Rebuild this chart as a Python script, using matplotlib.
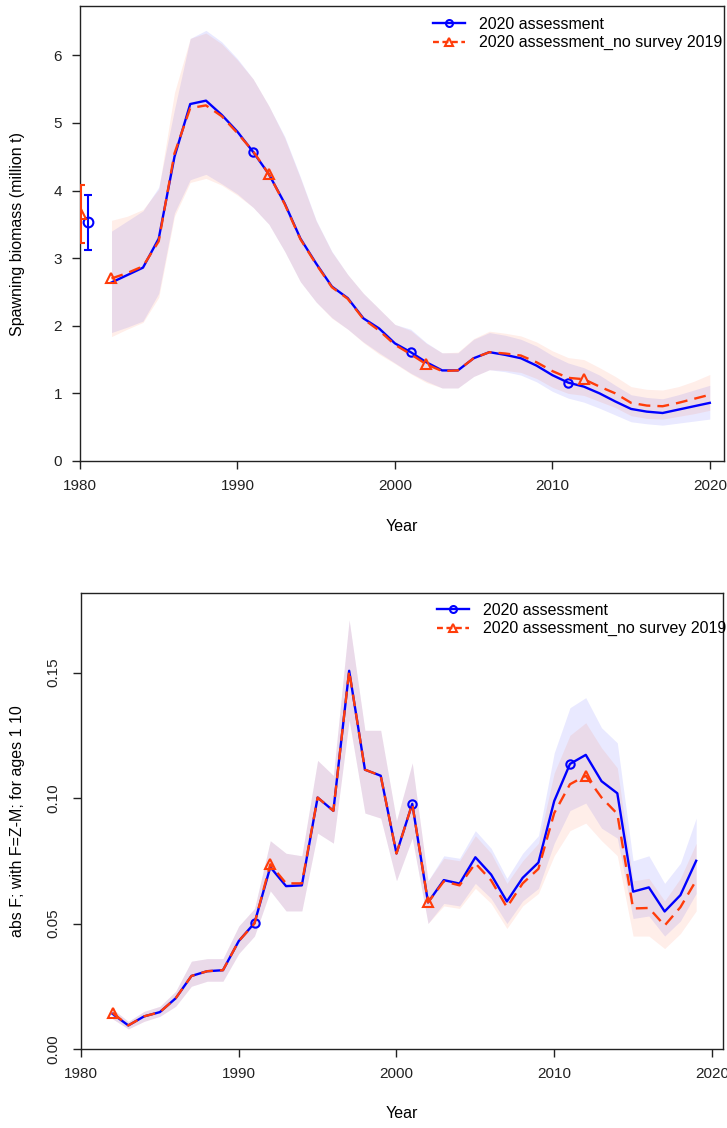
import numpy as np
import matplotlib
matplotlib.use("Agg")
import matplotlib.pyplot as plt

plt.rcParams['font.family'] = ['Liberation Sans', 'DejaVu Sans']

years_ssb = list(range(1982, 2021))
ssb_blue = [2.64, 2.75, 2.86, 3.29, 4.50, 5.28, 5.33, 5.12, 4.87, 4.57,
            4.24, 3.81, 3.29, 2.92, 2.58, 2.41, 2.11, 1.96, 1.74, 1.61,
            1.46, 1.34, 1.34, 1.52, 1.61, 1.57, 1.52, 1.41, 1.27, 1.16,
            1.10, 1.00, 0.88, 0.77, 0.73, 0.71, 0.76, 0.81, 0.86]
ssb_red = [2.70, 2.78, 2.88, 3.25, 4.55, 5.22, 5.26, 5.10, 4.85, 4.58,
           4.24, 3.80, 3.28, 2.91, 2.57, 2.40, 2.10, 1.93, 1.72, 1.58,
           1.43, 1.33, 1.34, 1.52, 1.61, 1.59, 1.56, 1.46, 1.33, 1.23,
           1.21, 1.10, 1.00, 0.86, 0.82, 0.81, 0.86, 0.92, 0.98]
ssb_blue_hi = [3.40, 3.55, 3.70, 4.05, 5.20, 6.25, 6.37, 6.20, 5.95, 5.65,
               5.25, 4.80, 4.20, 3.56, 3.10, 2.76, 2.48, 2.25, 2.02, 1.95,
               1.75, 1.60, 1.60, 1.80, 1.90, 1.86, 1.80, 1.70, 1.56, 1.45,
               1.38, 1.27, 1.12, 0.98, 0.94, 0.92, 0.98, 1.05, 1.12]
ssb_blue_lo = [1.90, 1.98, 2.07, 2.48, 3.67, 4.16, 4.24, 4.10, 3.95, 3.75,
               3.50, 3.10, 2.65, 2.35, 2.12, 1.95, 1.76, 1.60, 1.45, 1.30,
               1.18, 1.08, 1.08, 1.25, 1.35, 1.32, 1.27, 1.17, 1.03, 0.93,
               0.87, 0.78, 0.68, 0.58, 0.55, 0.53, 0.56, 0.59, 0.62]
ssb_red_hi = [3.56, 3.62, 3.72, 4.02, 5.45, 6.25, 6.33, 6.17, 5.93, 5.65,
              5.25, 4.78, 4.18, 3.55, 3.09, 2.76, 2.48, 2.25, 2.02, 1.93,
              1.74, 1.60, 1.61, 1.81, 1.92, 1.89, 1.85, 1.76, 1.63, 1.53,
              1.50, 1.38, 1.25, 1.10, 1.06, 1.05, 1.10, 1.18, 1.28]
ssb_red_lo = [1.84, 1.95, 2.05, 2.42, 3.62, 4.12, 4.18, 4.08, 3.93, 3.75,
              3.50, 3.10, 2.65, 2.35, 2.11, 1.95, 1.75, 1.58, 1.44, 1.29,
              1.16, 1.08, 1.08, 1.25, 1.35, 1.34, 1.31, 1.22, 1.09, 1.00,
              0.97, 0.88, 0.79, 0.67, 0.63, 0.62, 0.66, 0.70, 0.75]

# side estimates with error bars (x, value, low, high)
side_blue = (1980.53, 3.53, 3.12, 3.93)
side_red = (1980.05, 3.66, 3.22, 4.08)

years_f = list(range(1982, 2020))
f_blue = [0.0140, 0.0094, 0.0130, 0.0147, 0.0202, 0.0291, 0.0310, 0.0314, 0.0430, 0.0502,
          0.0725, 0.0649, 0.0652, 0.1002, 0.0949, 0.1507, 0.1113, 0.1089, 0.0779, 0.0977,
          0.0584, 0.0673, 0.0659, 0.0764, 0.0695, 0.0588, 0.0682, 0.0743, 0.0988, 0.1136,
          0.1172, 0.1067, 0.1019, 0.0627, 0.0644, 0.0548, 0.0613, 0.0750]
f_red = [0.0144, 0.0094, 0.0130, 0.0147, 0.0202, 0.0291, 0.0310, 0.0314, 0.0430, 0.0500,
         0.0736, 0.0660, 0.0660, 0.1002, 0.0949, 0.1507, 0.1113, 0.1089, 0.0779, 0.0977,
         0.0584, 0.0668, 0.0652, 0.0740, 0.0672, 0.0565, 0.0660, 0.0718, 0.0940, 0.1055,
         0.1089, 0.1002, 0.0937, 0.0560, 0.0562, 0.0492, 0.0565, 0.0672]
f_blue_hi = [0.016, 0.011, 0.015, 0.017, 0.023, 0.035, 0.036, 0.036, 0.049, 0.056,
             0.083, 0.078, 0.077, 0.115, 0.109, 0.171, 0.127, 0.127, 0.091, 0.114,
             0.067, 0.077, 0.076, 0.087, 0.080, 0.068, 0.078, 0.085, 0.118, 0.136,
             0.140, 0.128, 0.122, 0.075, 0.077, 0.066, 0.074, 0.092]
f_blue_lo = [0.012, 0.008, 0.011, 0.013, 0.017, 0.025, 0.027, 0.027, 0.038, 0.045,
             0.063, 0.055, 0.055, 0.086, 0.082, 0.131, 0.094, 0.092, 0.067, 0.084,
             0.050, 0.058, 0.057, 0.066, 0.060, 0.050, 0.059, 0.064, 0.082, 0.095,
             0.098, 0.088, 0.084, 0.052, 0.053, 0.045, 0.051, 0.062]
f_red_hi = [0.016, 0.011, 0.015, 0.017, 0.023, 0.035, 0.036, 0.036, 0.049, 0.056,
            0.083, 0.078, 0.077, 0.115, 0.109, 0.171, 0.127, 0.127, 0.091, 0.114,
            0.067, 0.076, 0.075, 0.085, 0.078, 0.066, 0.075, 0.082, 0.110, 0.125,
            0.130, 0.120, 0.112, 0.067, 0.068, 0.059, 0.068, 0.082]
f_red_lo = [0.012, 0.008, 0.011, 0.013, 0.017, 0.025, 0.027, 0.027, 0.038, 0.045,
            0.063, 0.055, 0.055, 0.086, 0.082, 0.131, 0.094, 0.092, 0.067, 0.084,
            0.050, 0.057, 0.056, 0.064, 0.058, 0.048, 0.057, 0.062, 0.077, 0.087,
            0.090, 0.083, 0.077, 0.045, 0.045, 0.040, 0.046, 0.055]

label_blue = "2020 assessment"
label_red = "2020 assessment_no survey 2019"
xticks = [1980, 1990, 2000, 2010, 2020]

BLUE = "#0000FF"
RED = "#FF3C0A"
BAND_ALPHA = 0.085

fig = plt.figure(figsize=(7.27, 11.28), dpi=100)
W, H = 727, 1128


def add_axes_px(left, top, right, bottom):
    return fig.add_axes([left / W, 1 - bottom / H, (right - left) / W, (bottom - top) / H])


def style_axes(ax):
    for s in ax.spines.values():
        s.set_linewidth(1.0)
        s.set_color("#222222")
    ax.tick_params(direction="out", length=6, width=1.0, labelsize=11, pad=7, colors="#222222")
    ax.set_xticks(xticks)


def draw_series(ax, x, blue, red, bhi, blo, rhi, rlo):
    ax.fill_between(x, blo, bhi, color=BLUE, alpha=BAND_ALPHA, lw=0)
    ax.fill_between(x, rlo, rhi, color=RED, alpha=BAND_ALPHA, lw=0)
    ax.plot(x, blue, color=BLUE, lw=1.7, marker="o", ms=6, mfc="none", mew=1.5,
            markevery=(9, 10), label=label_blue, zorder=4)
    ax.plot(x, red, color=RED, lw=1.7, ls=(0, (5, 3)), marker="^", ms=7, mfc="none", mew=1.5,
            markevery=(0, 10), label=label_red, zorder=5)


def add_legend(ax, x0, y0):
    h1 = plt.Line2D([], [], color=BLUE, lw=1.7, marker="o", ms=5, mfc="none", mew=1.5)
    h2 = plt.Line2D([], [], color=RED, lw=1.7, ls=(0, (2.5, 1.5)), marker="^", ms=6, mfc="none", mew=1.5)
    ax.legend([h1, h2], [label_blue, label_red], loc="upper left", bbox_to_anchor=(x0, y0),
              frameon=False, fontsize=11.5, borderpad=0, borderaxespad=0,
              handlelength=2.0, handletextpad=0.9, labelspacing=0.2, markerscale=1.0)


# ---------- top panel ----------
ax1 = add_axes_px(80, 6, 724, 461)
draw_series(ax1, years_ssb, ssb_blue, ssb_red, ssb_blue_hi, ssb_blue_lo, ssb_red_hi, ssb_red_lo)
ax1.errorbar([side_blue[0]], [side_blue[1]],
             yerr=[[side_blue[1] - side_blue[2]], [side_blue[3] - side_blue[1]]],
             color=BLUE, marker="o", ms=7, mfc="none", mew=1.5, lw=1.5, capsize=3, zorder=6)
ax1.errorbar([side_red[0]], [side_red[1]],
             yerr=[[side_red[1] - side_red[2]], [side_red[3] - side_red[1]]],
             color=RED, marker="^", ms=7, mfc="none", mew=1.5, lw=1.5, capsize=3, zorder=6)
ax1.set_xlim(1980, 2020.9)
ax1.set_ylim(0, 6.73)
style_axes(ax1)
ax1.set_yticks([0, 1, 2, 3, 4, 5, 6])
ax1.set_ylabel("Spawning biomass (million t)", fontsize=11.5)
ax1.set_xlabel("Year", fontsize=11.5)
ax1.yaxis.set_label_coords(-0.085, 0.5)
ax1.xaxis.set_label_coords(0.5, -0.127)
add_legend(ax1, 0.548, 0.976)

# ---------- bottom panel ----------
ax2 = add_axes_px(81, 593, 723, 1049)
draw_series(ax2, years_f, f_blue, f_red, f_blue_hi, f_blue_lo, f_red_hi, f_red_lo)
ax2.set_xlim(1980, 2020.7)
ax2.set_ylim(0, 0.1817)
style_axes(ax2)
ax2.set_yticks([0.0, 0.05, 0.10, 0.15])
ax2.set_yticklabels(["0.00", "0.05", "0.10", "0.15"], rotation=90, va="center")
ax2.tick_params(axis="y", pad=9)
ax2.set_ylabel("abs F; with F=Z-M; for ages 1 10", fontsize=11.5)
ax2.set_xlabel("Year", fontsize=11.5)
ax2.yaxis.set_label_coords(-0.087, 0.5)
ax2.xaxis.set_label_coords(0.5, -0.125)
add_legend(ax2, 0.5545, 0.978)

fig.savefig("out.png", dpi=100)
